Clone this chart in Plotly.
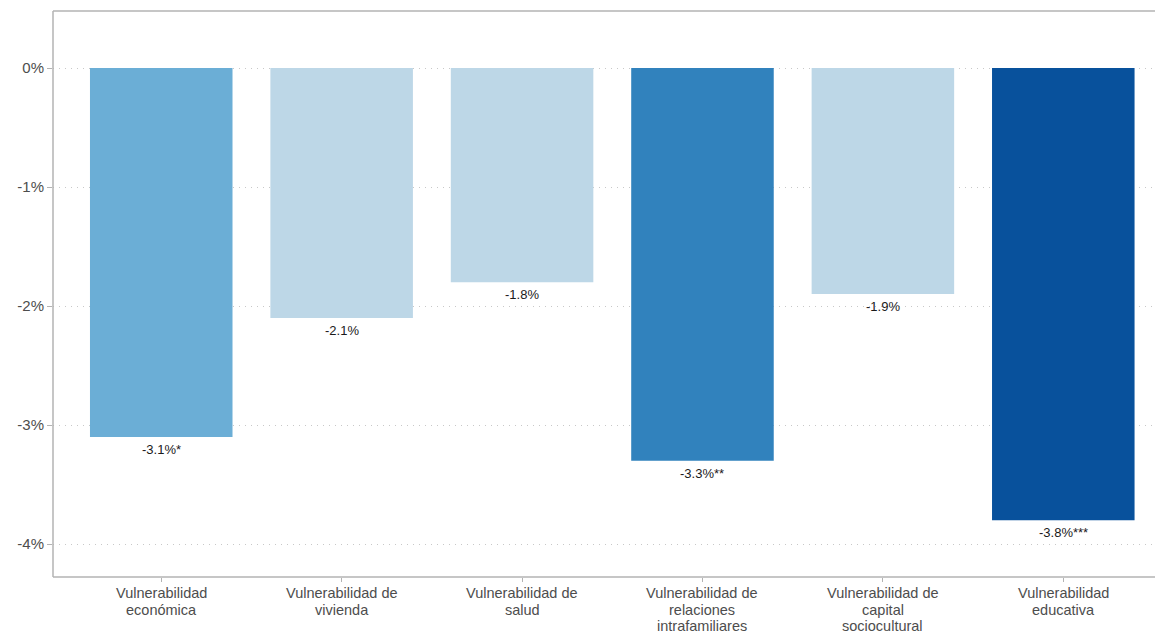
import plotly.graph_objects as go

categorias = [
    "Vulnerabilidad<br>económica",
    "Vulnerabilidad de<br>vivienda",
    "Vulnerabilidad de<br>salud",
    "Vulnerabilidad de<br>relaciones<br>intrafamiliares",
    "Vulnerabilidad de<br>capital<br>sociocultural",
    "Vulnerabilidad<br>educativa",
]
valores = [-3.1, -2.1, -1.8, -3.3, -1.9, -3.8]
etiquetas = ["-3.1%*", "-2.1%", "-1.8%", "-3.3%**", "-1.9%", "-3.8%***"]
colores = ["#6BAED6", "#BDD7E7", "#BDD7E7", "#3182BD", "#BDD7E7", "#08519C"]
y_ticks = [0, -1, -2, -3, -4]
y_tick_labels = ["0%", "-1%", "-2%", "-3%", "-4%"]

gris = "#b3b3b3"
texto = "#4d4d4d"

fig = go.Figure()
fig.add_trace(go.Bar(
    x=list(range(len(categorias))), y=valores,
    marker=dict(color=colores, line=dict(width=0)),
    width=0.79, hoverinfo="skip",
))

# etiquetas de valor bajo cada barra
for i, (v, t) in enumerate(zip(valores, etiquetas)):
    fig.add_annotation(x=i, y=v, text=t, showarrow=False, yanchor="top", yshift=-3,
                       font=dict(size=13, color="#1a1a1a"))

# etiquetas del eje x, una linea por anotacion para controlar el interlineado
for i, cat in enumerate(categorias):
    for k, linea in enumerate(cat.split("<br>")):
        fig.add_annotation(x=i, xref="x", y=0, yref="paper", text=linea, showarrow=False,
                           yanchor="top", yshift=-7 - 16.5 * k, borderpad=0,
                           font=dict(size=14.5, color=texto))

fig.update_layout(
    width=1163, height=635,
    margin=dict(l=45, r=0, t=3, b=66),
    paper_bgcolor="white", plot_bgcolor="white",
    font=dict(family="Liberation Sans, Arial", size=15, color=texto),
    showlegend=False,
    shapes=[
        dict(type="line", xref="paper", yref="paper", x0=0, x1=0, y0=0, y1=1,
             line=dict(color=gris, width=1.5)),
        dict(type="line", xref="paper", yref="paper", x0=0, x1=1, y0=1, y1=1,
             line=dict(color=gris, width=1.5)),
        dict(type="line", xref="paper", yref="paper", x0=0, x1=1, y0=0, y1=0,
             line=dict(color=gris, width=1.5)),
    ],
)
fig.update_xaxes(
    range=[-0.6, 5.597], tickmode="array",
    tickvals=list(range(len(categorias))), ticktext=[""] * len(categorias),
    ticks="outside", ticklen=4, tickcolor=gris, tickwidth=1,
    showgrid=False, zeroline=False, showline=False, automargin=False,
    fixedrange=True,
)
fig.update_yaxes(
    range=[-4.277, 0.479], tickmode="array",
    tickvals=y_ticks, ticktext=y_tick_labels,
    ticks="outside", ticklen=5, tickcolor=gris, tickwidth=1,
    showgrid=True, gridcolor="#c8c8c8", griddash="1px,5px", gridwidth=1.2,
    zeroline=False, showline=False, automargin=False,
    tickfont=dict(size=15, color=texto), fixedrange=True,
)

fig.write_html("out.html")
